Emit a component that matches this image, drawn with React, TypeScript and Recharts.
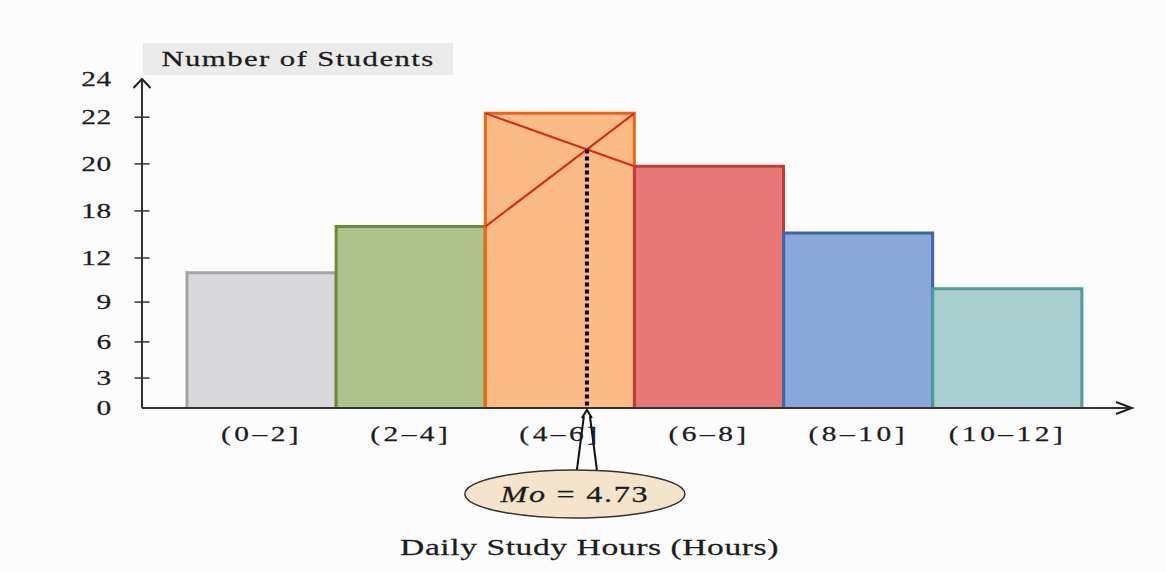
import React from 'react';
import { BarChart, Bar, XAxis, YAxis, Label } from 'recharts';

// Daily study hours of a class, grouped in 2-hour classes
const CATEGORIES = ['(0–2]', '(2–4]', '(4–6]', '(6–8]', '(8–10]', '(10–12]'];
const STUDENTS = [11, 16, 22.2, 19.9, 15.2, 9.9];
const MODAL_INDEX = 2;
const MODE_TEXT = '4.73';

// Labelled values of the count axis and where each one sits on it (share of axis height, 0–100);
// the graduation is deliberately uneven.
const Y_TICK_LABELS = [0, 3, 6, 9, 12, 18, 20, 22, 24];
const Y_GAUGE = [0, 9.1, 20.1, 32.2, 45.6, 59.9, 74.2, 88.4, 100];

const FILLS = ['#d9d9db', '#adc38b', '#fbbb86', '#e87878', '#88a8da', '#a9d0d0'];
const STROKES = ['#a4a4a4', '#6a8a3a', '#ec6510', '#c23c3c', '#4066a8', '#4e9c9c'];

const SERIF = '"Liberation Serif", "Times New Roman", serif';
const STRETCH = 1.4;
const INK = '#1c1c1c';
const INK_WEIGHT = 0.25;

// piecewise-linear position of a count on the unevenly graduated axis
function toGauge(v: number): number {
  for (let i = 1; i < Y_TICK_LABELS.length; i++) {
    if (v <= Y_TICK_LABELS[i]) {
      const a = Y_TICK_LABELS[i - 1];
      const b = Y_TICK_LABELS[i];
      return Y_GAUGE[i - 1] + ((v - a) / (b - a)) * (Y_GAUGE[i] - Y_GAUGE[i - 1]);
    }
  }
  return Y_GAUGE[Y_GAUGE.length - 1];
}

const data = CATEGORIES.map((range, i) => ({
  range,
  students: STUDENTS[i],
  level: toGauge(STUDENTS[i]),
}));

// wide serif lettering: glyphs stretched horizontally around their anchor
function WideText(props: any) {
  const { x, y, anchor = 'middle', size, spacing = 0, children } = props;
  return (
    <g transform={`translate(${x},${y}) scale(${STRETCH},1)`}>
      <text
        x={0}
        y={0}
        textAnchor={anchor}
        fontFamily={SERIF}
        fontSize={size}
        letterSpacing={spacing}
        fill={INK}
        stroke={INK}
        strokeWidth={INK_WEIGHT}
      >
        {children}
      </text>
    </g>
  );
}

function YTick(props: any) {
  const { x, y, payload } = props;
  const i = Y_GAUGE.indexOf(payload.value);
  const showMark = i > 0 && i < Y_GAUGE.length - 1;
  return (
    <g>
      {showMark && <line x1={x - 7.5} x2={x + 7.5} y1={y} y2={y} stroke="#333" strokeWidth={1.5} />}
      <WideText x={x - 30} y={y + 7} anchor="end" size={21} spacing={0.5}>
        {Y_TICK_LABELS[i]}
      </WideText>
    </g>
  );
}

function XTick(props: any) {
  const { x, y, payload } = props;
  return (
    <WideText x={x} y={y + 33} size={21} spacing={2.5}>
      {payload.value}
    </WideText>
  );
}

// arrow tip of the count axis and its caption box
function YAxisCap(props: any) {
  const vb = props.viewBox;
  const ax = vb.x + vb.width;
  const top = vb.y;
  return (
    <g>
      <path
        d={`M${ax - 8.5},${top + 9} L${ax},${top} L${ax + 8.5},${top + 9}`}
        fill="none"
        stroke="#222"
        strokeWidth={2}
      />
      <rect x={ax + 1} y={top - 36} width={310} height={32} fill="#ebebeb" />
      <WideText x={ax + 156} y={top - 13} size={22} spacing={1}>
        Number of Students
      </WideText>
    </g>
  );
}

// arrow tip of the hours axis and its title
function XAxisCap(props: any) {
  const vb = props.viewBox;
  const end = vb.x + vb.width;
  const ay = vb.y;
  return (
    <g>
      <path
        d={`M${end - 16},${ay - 6} L${end},${ay} L${end - 16},${ay + 6}`}
        fill="none"
        stroke="#222"
        strokeWidth={2}
      />
      <WideText x={vb.x + vb.width * 0.452} y={ay + 147} size={24} spacing={0.4}>
        Daily Study Hours (Hours)
      </WideText>
    </g>
  );
}

// graphical mode construction on the modal class: crossed lines, foot of the intersection, label
function ModeConstruction(props: any) {
  const { x, y, width, height, index } = props;
  const base = y + height;
  const own = toGauge(STUDENTS[index]);
  const px = (v: number) => base - (height * toGauge(v)) / own;
  const leftTop = px(STUDENTS[index - 1]);
  const rightTop = px(STUDENTS[index + 1]);
  const t = (leftTop - y) / (leftTop - y + (rightTop - y));
  const ix = x + t * width;
  const iy = y + t * (rightTop - y);
  const cx = ix - 12;
  const cy = base + 86;
  return (
    <g>
      <line x1={x} y1={y} x2={x + width} y2={rightTop} stroke="#d42a1c" strokeWidth={2} />
      <line x1={x} y1={leftTop} x2={x + width} y2={y} stroke="#d42a1c" strokeWidth={2} />
      <line x1={ix} y1={iy} x2={ix} y2={base} stroke="#000" strokeWidth={4} strokeDasharray="4 3" />
      <path
        d={`M${ix - 10},${base + 62} L${ix - 3},${base + 8} M${ix + 10},${base + 62} L${ix + 3},${base + 8} M${ix - 5},${base + 10} L${ix},${base + 2} L${ix + 5},${base + 10}`}
        fill="none"
        stroke="#111"
        strokeWidth={2}
      />
      <ellipse cx={cx} cy={cy} rx={110} ry={24} fill="#f3e4cb" stroke="#333" strokeWidth={1.5} />
      <g transform={`translate(${cx},${base + 94}) scale(${STRETCH},1)`}>
        <text
          x={0}
          y={0}
          textAnchor="middle"
          fontFamily={SERIF}
          fontSize={23}
          letterSpacing={1.2}
          fill={INK}
          stroke={INK}
          strokeWidth={INK_WEIGHT}
        >
          <tspan fontStyle="italic">Mo</tspan>
          <tspan> = {MODE_TEXT}</tspan>
        </text>
      </g>
    </g>
  );
}

function HistogramBar(props: any) {
  const { x, y, width, height, index } = props;
  const base = y + height;
  return (
    <g>
      <rect x={x} y={y} width={width} height={height} fill={FILLS[index]} />
      <path
        d={`M${x},${base} L${x},${y} L${x + width},${y} L${x + width},${base}`}
        fill="none"
        stroke={STROKES[index]}
        strokeWidth={3}
      />
      {index === MODAL_INDEX && <ModeConstruction {...props} />}
    </g>
  );
}

export default function App() {
  return (
    <div style={{ position: 'absolute', left: 0, top: 0, width: 1166, height: 572, background: '#fcfcfc' }}>
      <BarChart
        width={1166}
        height={572}
        data={data}
        margin={{ top: 79, right: 34, bottom: 134, left: 0 }}
        barCategoryGap={0}
      >
        <Bar dataKey="level" isAnimationActive={false} shape={HistogramBar} />
        <XAxis
          dataKey="range"
          height={30}
          padding={{ left: 45, right: 50 }}
          interval={0}
          tickLine={false}
          tickSize={0}
          tickMargin={0}
          tick={XTick}
          axisLine={{ stroke: '#333', strokeWidth: 2 }}
        >
          <Label content={XAxisCap} />
        </XAxis>
        <YAxis
          type="number"
          domain={[0, 100]}
          ticks={Y_GAUGE}
          interval={0}
          width={142}
          tickLine={false}
          tickSize={0}
          tickMargin={0}
          tick={YTick}
          axisLine={{ stroke: '#333', strokeWidth: 2 }}
        >
          <Label content={YAxisCap} />
        </YAxis>
      </BarChart>
    </div>
  );
}
